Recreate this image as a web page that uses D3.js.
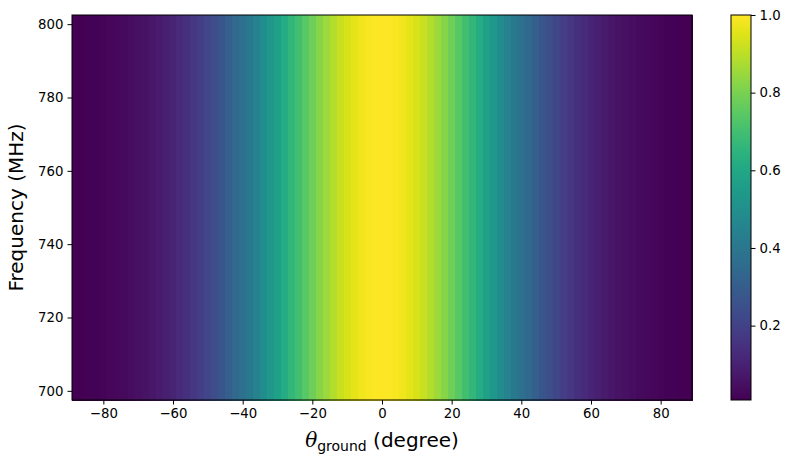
<!DOCTYPE html>
<html>
<head>
<meta charset="utf-8">
<script src="https://cdn.jsdelivr.net/npm/d3@7"></script>
<style>
  body { margin: 0; background: #fff; }
  text { font-family: "DejaVu Sans", sans-serif; }
</style>
</head>
<body>
<div id="chart"></div>
<script>
// column centres (degree) and row centres (MHz)
const angles = d3.range(-88, 89, 2);
const freqs = [700, 705, 710, 715, 720, 725, 730, 735, 740, 745, 750, 755, 760, 765, 770, 775, 780, 785, 790, 795, 800];

// normalised response per angle column (same for every frequency row)
const response = [
  0.0085, 0.011, 0.013, 0.016, 0.019, 0.024, 0.029, 0.034, 0.041, 0.049,
  0.058, 0.068, 0.080, 0.094, 0.109, 0.126, 0.145, 0.166, 0.189, 0.215,
  0.242, 0.272, 0.304, 0.338, 0.374, 0.411, 0.450, 0.491, 0.532, 0.575,
  0.617, 0.660, 0.701, 0.742, 0.782, 0.819, 0.854, 0.886, 0.915, 0.940,
  0.961, 0.978, 0.990, 0.9975, 1.0, 0.9975, 0.990, 0.978, 0.961, 0.940,
  0.915, 0.886, 0.854, 0.819, 0.782, 0.742, 0.701, 0.660, 0.617, 0.575,
  0.532, 0.491, 0.450, 0.411, 0.374, 0.338, 0.304, 0.272, 0.242, 0.215,
  0.189, 0.166, 0.145, 0.126, 0.109, 0.094, 0.080, 0.068, 0.058, 0.049,
  0.041, 0.034, 0.029, 0.024, 0.019, 0.016, 0.013, 0.011, 0.0085
];

const xTicks = [-80, -60, -40, -20, 0, 20, 40, 60, 80];
const yTicks = [700, 720, 740, 760, 780, 800];
const cbTicks = [0.2, 0.4, 0.6, 0.8, 1.0];

const w = 791, h = 466;
const plot = { left: 72, right: 692, top: 15, bottom: 400 };
const cb = { left: 731, right: 751 };

const svg = d3.select('#chart').append('svg')
  .attr('width', w)
  .attr('height', h);

const x = d3.scaleLinear().domain([-89, 89]).range([plot.left, plot.right]);
const y = d3.scaleLinear().domain([697.5, 802.5]).range([plot.bottom, plot.top]);

const vmin = d3.min(response), vmax = d3.max(response);
const colour = d3.scaleSequential(d3.interpolateViridis).domain([vmin, vmax]);

// cells
const cells = [];
freqs.forEach(f => angles.forEach((a, i) => cells.push({ a, f, v: response[i] })));

svg.append('g').selectAll('rect')
  .data(cells)
  .enter()
  .append('rect')
    .attr('x', d => x(d.a - 1))
    .attr('y', d => y(d.f + 2.5))
    .attr('width', d => x(d.a + 1) - x(d.a - 1) + 0.5)
    .attr('height', d => y(d.f - 2.5) - y(d.f + 2.5) + 0.5)
    .attr('fill', d => colour(d.v))
    .attr('shape-rendering', 'crispEdges');

// axes
const xAxis = d3.axisBottom(x).tickValues(xTicks).tickFormat(d => d < 0 ? '\u2212' + Math.abs(d) : d)
  .tickSizeOuter(0).tickSize(4.5).tickPadding(4);
const yAxis = d3.axisLeft(y).tickValues(yTicks).tickSizeOuter(0).tickSize(4.5).tickPadding(4);

const gx = svg.append('g').attr('transform', `translate(0,${plot.bottom})`).call(xAxis);
const gy = svg.append('g').attr('transform', `translate(${plot.left},0)`).call(yAxis);
[gx, gy].forEach(g => {
  g.select('.domain').remove();
  g.selectAll('text').style('font-size', '13.3px').attr('fill', '#000');
  g.selectAll('line').attr('stroke', '#000');
});

svg.append('rect')
  .attr('x', plot.left).attr('y', plot.top)
  .attr('width', plot.right - plot.left).attr('height', plot.bottom - plot.top)
  .attr('fill', 'none').attr('stroke', '#000').attr('stroke-width', 1);

// axis labels
svg.append('text')
  .attr('transform', `translate(23,${(plot.top + plot.bottom) / 2}) rotate(-90)`)
  .attr('text-anchor', 'middle')
  .style('font-size', '20px')
  .text('Frequency (MHz)');

const xl = svg.append('text')
  .attr('x', (plot.left + plot.right) / 2)
  .attr('y', 447)
  .attr('text-anchor', 'middle')
  .style('font-size', '20px');
xl.append('tspan').attr('font-style', 'italic').attr('font-family', 'DejaVu Serif').text('\u03b8');
xl.append('tspan').attr('dy', 4).style('font-size', '14px').text('ground');
xl.append('tspan').attr('dy', -4).text(' (degree)');

// colorbar
const cy = d3.scaleLinear().domain([vmin, vmax]).range([plot.bottom, plot.top]);
const grad = svg.append('defs').append('linearGradient')
  .attr('id', 'cbgrad').attr('x1', 0).attr('x2', 0).attr('y1', 1).attr('y2', 0);
d3.range(0, 1.0001, 0.05).forEach(t => {
  grad.append('stop').attr('offset', t).attr('stop-color', d3.interpolateViridis(t));
});
svg.append('rect')
  .attr('x', cb.left).attr('y', plot.top)
  .attr('width', cb.right - cb.left).attr('height', plot.bottom - plot.top)
  .attr('fill', 'url(#cbgrad)')
  .attr('stroke', '#000').attr('stroke-width', 1);

const cbAxis = d3.axisRight(cy).tickValues(cbTicks).tickFormat(d3.format('.1f'))
  .tickSizeOuter(0).tickSize(4.5).tickPadding(4);
const gc = svg.append('g').attr('transform', `translate(${cb.right},0)`).call(cbAxis);
gc.select('.domain').remove();
gc.selectAll('text').style('font-size', '13.3px').attr('fill', '#000');
gc.selectAll('line').attr('stroke', '#000');
</script>
</body>
</html>
